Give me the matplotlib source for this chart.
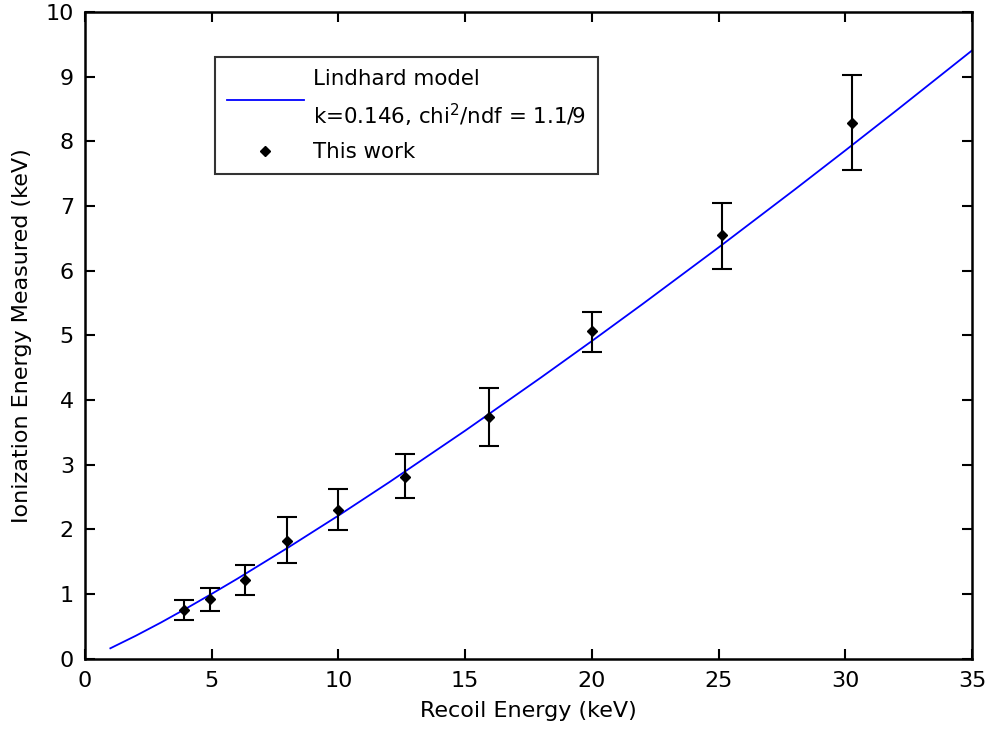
import matplotlib
matplotlib.use("Agg")
import matplotlib.pyplot as plt
from matplotlib.lines import Line2D

plt.rcParams['font.family'] = ['DejaVu Sans']

# Measured points: recoil energy, ionization energy, asymmetric errors
recoil = [3.91, 4.93, 6.33, 7.97, 9.98, 12.63, 15.95, 20.0, 25.13, 30.25]
ionization = [0.75, 0.92, 1.22, 1.82, 2.30, 2.81, 3.73, 5.07, 6.55, 8.29]
err_low = [0.15, 0.18, 0.24, 0.34, 0.31, 0.32, 0.44, 0.33, 0.52, 0.74]
err_high = [0.16, 0.18, 0.23, 0.37, 0.32, 0.36, 0.45, 0.29, 0.49, 0.74]

# Lindhard model curve (k = 0.146)
model_E = [1, 2, 3, 4, 5, 6, 8, 10, 12, 15, 18, 20, 22, 25, 28, 30, 32, 35]
model_I = [0.161, 0.354, 0.560, 0.778, 1.003, 1.234, 1.715, 2.213, 2.728,
           3.526, 4.350, 4.912, 5.484, 6.359, 7.253, 7.859, 8.472, 9.405]

x_ticks = [0, 5, 10, 15, 20, 25, 30, 35]
y_ticks = [0, 1, 2, 3, 4, 5, 6, 7, 8, 9, 10]

FS = 16
LEG_FS = 15.4

fig = plt.figure(figsize=(9.87, 7.34), dpi=100)
ax = fig.add_axes([85 / 987, 1 - 658.7 / 734, (972 - 85) / 987, (658.7 - 12) / 734])

model_line, = ax.plot(model_E, model_I, color='#0000ff', lw=1.3)
ax.errorbar(recoil, ionization, yerr=[err_low, err_high], fmt='D', color='black',
            markersize=5, ecolor='black', elinewidth=1.5, capsize=7.5,
            capthick=1.5)

ax.set_xlim(0, 35)
ax.set_ylim(0, 10)
ax.set_xticks(x_ticks)
ax.set_yticks(y_ticks)
ax.tick_params(direction='in', length=7, width=1.5, top=True, right=True,
               labelsize=FS, colors='black')
ax.tick_params(axis='x', pad=9)
ax.tick_params(axis='y', pad=8)
for s in ax.spines.values():
    s.set_linewidth(1.8)

ax.set_xlabel('Recoil Energy (keV)', fontsize=FS, labelpad=7)
ax.set_ylabel('Ionization Energy Measured (keV)', fontsize=FS, labelpad=10)

point_handle = Line2D([], [], marker='D', color='black', linestyle='none',
                      markersize=5)
leg = ax.legend([model_line, point_handle],
                ['Lindhard model\nk=0.146, chi$^2$/ndf = 1.1/9', 'This work'],
                loc='upper left', bbox_to_anchor=(215 / 987, 1 - 57 / 734),
                bbox_transform=fig.transFigure, borderaxespad=0, fontsize=LEG_FS,
                frameon=True, fancybox=False, edgecolor='black',
                handlelength=3.6, handletextpad=0.45, borderpad=0.55,
                labelspacing=0.6)
leg.get_frame().set_linewidth(1.5)
for t in leg.get_texts():
    t.set_linespacing(1.6)

fig.savefig('out.png', dpi=100)
